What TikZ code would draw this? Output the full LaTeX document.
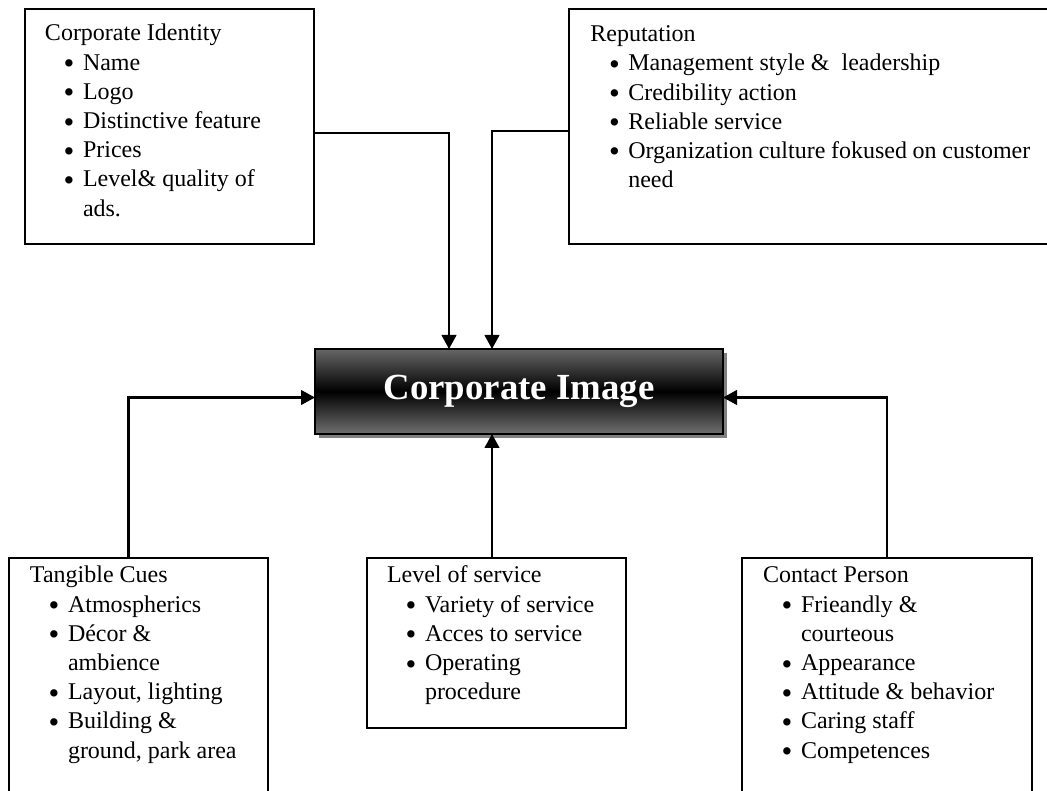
\documentclass[tikz,border=0pt]{standalone}
\usepackage{fontspec}
\setmainfont{Liberation Serif}
\usetikzlibrary{arrows.meta,positioning,calc,shadows}
\newcommand{\bitem}[1]{\par\hspace*{14pt}\makebox[14.5pt][l]{\raisebox{-2.6pt}{\fontsize{23pt}{0pt}\selectfont\textbullet}}#1}
\newcommand{\bcont}[1]{\par\hspace*{28.5pt}#1}
\newcommand{\factorlist}[1]{\parbox[t]{330pt}{\raggedright\fontsize{18pt}{21.9pt}\selectfont #1}}
\tikzset{
  factor/.style={draw,line width=1.3pt,anchor=north west,inner sep=0,outer sep=0},
  factor text/.style={anchor=base west,inner sep=0,outer sep=0},
  image box/.style={draw,line width=1.5pt,inner sep=0,outer sep=0,
    minimum width=306pt,minimum height=63.75pt,
    top color=black!60,bottom color=black!56,middle color=black,
    drop shadow={shadow xshift=3pt,shadow yshift=-3pt,fill=black!50,opacity=1},
    text=white,font=\fontsize{27.6pt}{33pt}\selectfont\bfseries},
  link/.style={line width=1.6pt,-{Triangle[length=10.5pt,width=11pt]}}
}
\begin{document}
\begin{tikzpicture}[x=0.75pt,y=-0.75pt]
    \clip (0,0) rectangle (1047,791);
    % Boxes
    \node[factor,minimum width=216.75pt,minimum height=176.25pt] (identity) at (25,9) {};
    \node[factor,minimum width=366pt,minimum height=176.25pt] (reputation) at (569,9) {};
    \node[factor,minimum width=194.25pt,minimum height=180pt] (tangible) at (9,558) {};
    \node[factor,minimum width=194.25pt,minimum height=127.5pt] (level) at (367,558) {};
    \node[factor,minimum width=217.5pt,minimum height=180pt] (contact) at (742,558) {};
    \node[image box] (image) at (519,391.5) {Corporate Image};
    % Texts
    \node[factor text] (identityTxt) at ([xshift=15pt,yshift=-24pt]identity.north west)
      {\factorlist{Corporate Identity \bitem{Name} \bitem{Logo} \bitem{Distinctive feature}
       \bitem{Prices} \bitem{Level\& quality of} \bcont{ads.}}};
    \node[factor text] (reputationTxt) at ([xshift=16pt,yshift=-24.5pt]reputation.north west)
      {\factorlist{Reputation \bitem{Management style \& \ leadership} \bitem{Credibility action}
       \bitem{Reliable service} \bitem{Organization culture fokused on customer} \bcont{need}}};
    \node[factor text] (tangibleTxt) at ([xshift=15.75pt,yshift=-18.75pt]tangible.north west)
      {\factorlist{Tangible Cues \bitem{Atmospherics} \bitem{Décor \&} \bcont{ambience}
       \bitem{Layout, lighting} \bitem{Building \&} \bcont{ground, park area}}};
    \node[factor text] (levelTxt) at ([xshift=15pt,yshift=-18.75pt]level.north west)
      {\factorlist{Level of service \bitem{Variety of service} \bitem{Acces to service}
       \bitem{Operating} \bcont{procedure}}};
    \node[factor text] (contactTxt) at ([xshift=15.75pt,yshift=-18.75pt]contact.north west)
      {\factorlist{Contact Person \bitem{Frieandly \&} \bcont{courteous} \bitem{Appearance}
       \bitem{Attitude \& behavior} \bitem{Caring staff} \bitem{Competences}}};
    % Connections
    \coordinate (inA) at ([xshift=-52.5pt]image.north);
    \coordinate (inB) at ([xshift=-20.25pt]image.north);
    \coordinate (inC) at ([xshift=-20.25pt]image.south);
    \draw[link] ([yshift=-5pt]identity.east) -| (inA);
    \draw[link] ([yshift=-3.5pt]reputation.west) -| (inB);
    \draw[link] ([xshift=-7.5pt]tangible.north) |- ([yshift=-4.5pt]image.west);
    \draw[link] (level.north -| inC) -- (inC);
    \draw[link] (contact.north) |- ([yshift=-4.5pt]image.east);
  \end{tikzpicture}
\end{document}
